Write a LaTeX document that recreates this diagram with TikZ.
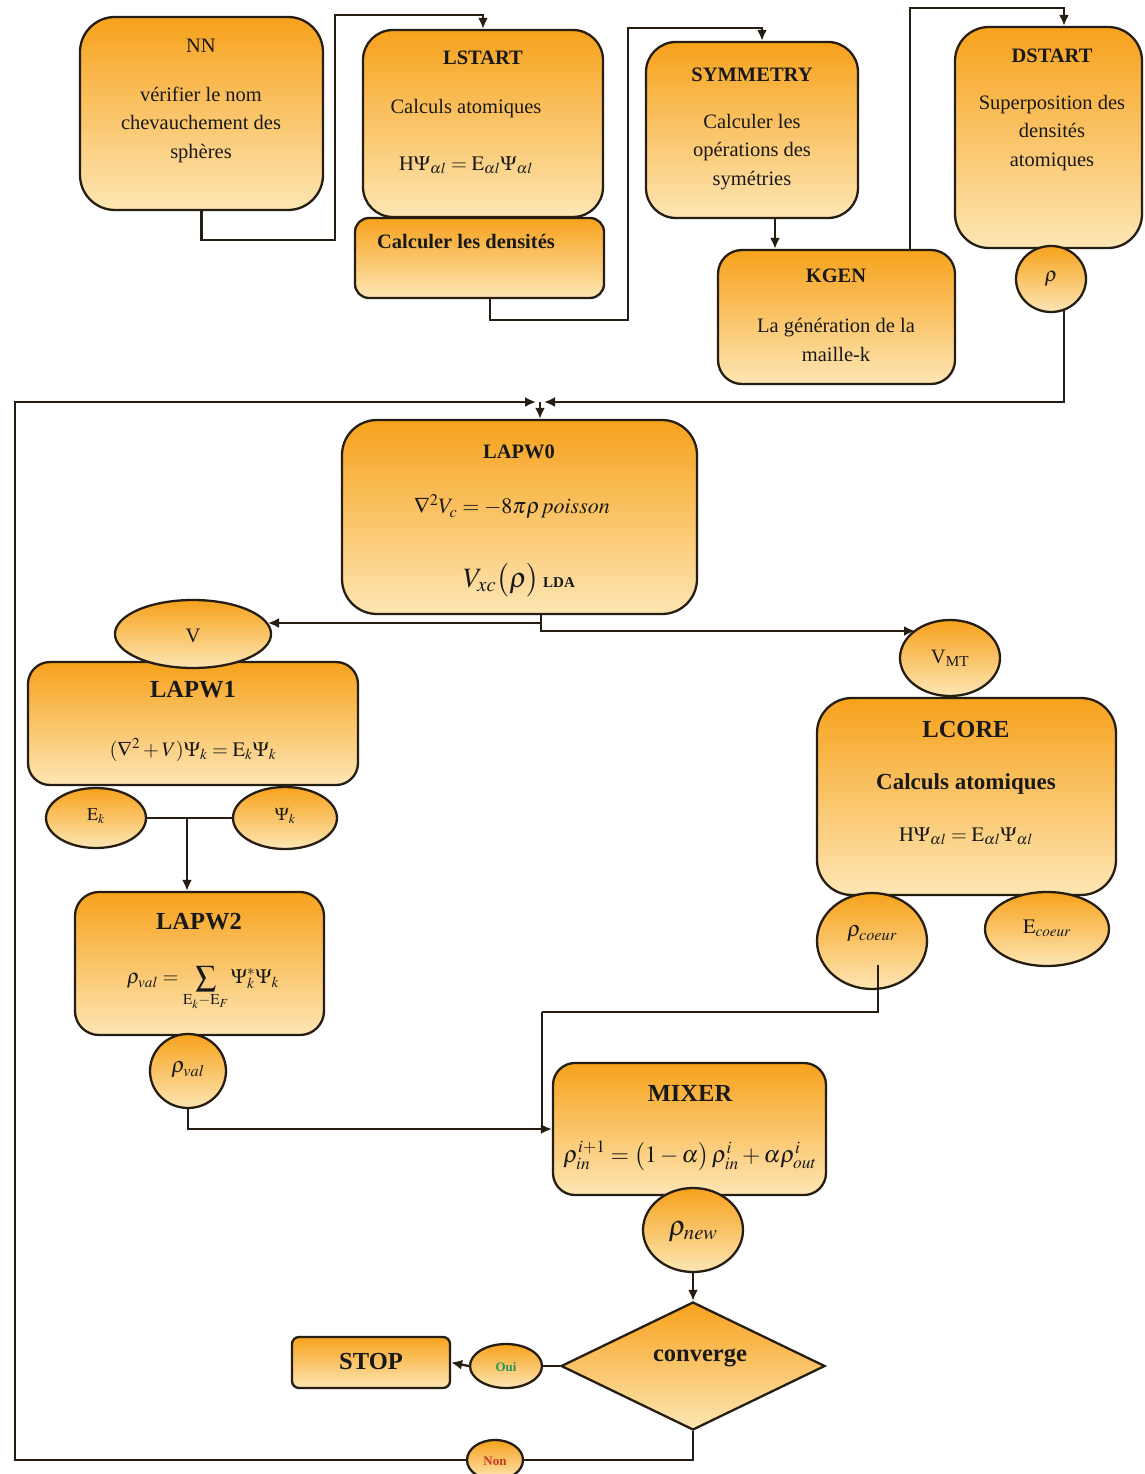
\documentclass[tikz,border=0pt]{standalone}
\usepackage{mathptmx}
\usepackage{fontspec}
\setmainfont{Liberation Serif}
\usetikzlibrary{shapes.geometric,arrows.meta}

\definecolor{otop}{RGB}{247,162,28}
\definecolor{obot}{RGB}{253,230,180}
\definecolor{edge}{RGB}{38,30,18}
\definecolor{ouigreen}{RGB}{40,150,90}
\definecolor{nonred}{RGB}{200,55,40}

\pgfdeclarelayer{paper}
\pgfdeclarelayer{wires}
\pgfsetlayers{paper,wires,main}

\tikzset{
  pbox/.style={draw=edge, line width=2.3pt, top color=otop, bottom color=obot, inner sep=0pt},
  pell/.style={ellipse, pbox},
  wire/.style={draw=edge, line width=2.3pt},
  arr/.style={wire, -{Latex[length=11pt,width=10pt]}},
  txt/.style={font=\fontsize{20.5}{28.5}\selectfont, align=center, inner sep=0pt, text=black!90},
  ttl/.style={font=\fontsize{20.5}{24}\selectfont\bfseries, inner sep=0pt, text=black!90},
  big/.style={font=\fontsize{24.5}{28}\selectfont\bfseries, inner sep=0pt, text=black!90},
}

\begin{document}
\begin{tikzpicture}[x=1pt,y=-1pt]
\useasboundingbox (0,0) rectangle (1144,1474);
\begin{pgfonlayer}{paper}
  \fill[white] (0,0) rectangle (1144,1474);
\end{pgfonlayer}

% ---------- initialisation boxes ----------
\node[pbox, rounded corners=35pt, minimum width=243pt, minimum height=193pt] (nn) at (201.5,113.5) {};
\node[pbox, rounded corners=30pt, minimum width=240pt, minimum height=187pt] (lstart) at (483,123.5) {};
\node[pbox, rounded corners=14pt, minimum width=249pt, minimum height=80pt] (calc) at (479.5,258) {};
\node[pbox, rounded corners=30pt, minimum width=212pt, minimum height=176pt] (sym) at (752,130) {};
\node[pbox, rounded corners=24pt, minimum width=237pt, minimum height=134pt] (kgen) at (836.5,317) {};
\node[pbox, rounded corners=34pt, minimum width=187pt, minimum height=221pt] (dstart) at (1048.5,137.5) {};
\node[pell, minimum width=70pt, minimum height=66pt] (rho) at (1051,279) {};

\node[txt] (nnT) at (201,46) {NN};
\node[txt] (nnB) at (201,124.5) {vérifier le nom\\chevauchement des\\sphères};
\node[ttl] (lsT) at (483,58) {LSTART};
\node[txt] (lsB) at (466,109) {Calculs atomiques};
\node[txt] (lsF) at (466,165) {$\mathrm{H}\Psi_{\alpha l}=\mathrm{E}_{\alpha l}\Psi_{\alpha l}$};
\node[ttl] (calcT) at (466,242) {Calculer les densités};
\node[ttl] (symT) at (752,75) {SYMMETRY};
\node[txt] (symB) at (752,152) {Calculer les\\opérations des\\symétries};
\node[ttl] (kgT) at (836,276) {KGEN};
\node[txt] (kgB) at (836,340) {La génération de la\\maille-k};
\node[ttl] (dsT) at (1052,56) {DSTART};
\node[txt] (dsB) at (1052,133) {Superposition des\\densités\\atomiques};
\node[txt] (rhoT) at (1051,279) {$\rho$};

% ---------- SCF cycle ----------
\node[pbox, rounded corners=35pt, minimum width=355pt, minimum height=194pt] (lapw0) at (519.5,517) {};
\node[pbox, rounded corners=22pt, minimum width=330pt, minimum height=123pt] (lapw1) at (193,723.5) {};
\node[pbox, rounded corners=24pt, minimum width=249pt, minimum height=143pt] (lapw2) at (199.5,963.5) {};
\node[pbox, rounded corners=35pt, minimum width=299pt, minimum height=197pt] (lcore) at (966.5,796.5) {};
\node[pbox, rounded corners=22pt, minimum width=273pt, minimum height=132pt] (mixer) at (689.5,1129) {};
\node[pbox, rounded corners=7pt, minimum width=158pt, minimum height=51pt] (stop) at (371,1362.5) {};
\node[pbox, diamond, minimum width=264pt, minimum height=128pt] (conv) at (693,1366) {};

\node[pell, minimum width=156pt, minimum height=68pt] (v) at (193,634) {};
\node[pell, minimum width=100pt, minimum height=76pt] (vmt) at (950,658) {};
\node[pell, minimum width=100pt, minimum height=60pt] (ek) at (96,818) {};
\node[pell, minimum width=104pt, minimum height=62pt] (psik) at (285,818) {};
\node[pell, minimum width=76pt, minimum height=74pt] (rhoval) at (188,1071) {};
\node[pell, minimum width=110pt, minimum height=96pt] (rhocore) at (872,941) {};
\node[pell, minimum width=124pt, minimum height=74pt] (ecore) at (1047,929) {};
\node[pell, minimum width=100pt, minimum height=84pt] (rhonew) at (693,1230) {};
\node[pell, minimum width=72pt, minimum height=44pt] (oui) at (506,1366) {};
\node[pell, minimum width=56pt, minimum height=40pt] (non) at (495,1460) {};

\node[ttl] (l0T) at (519,452) {LAPW0};
\node[txt, font=\fontsize{22}{26}\selectfont] (l0A) at (512,507) {$\nabla^{2}V_{c}=-8\pi\rho\,\mathit{poisson}$};
\node[txt] (l0B) at (519,580) {{\fontsize{28}{30}\selectfont$V_{xc}\bigl(\rho\bigr)$}\,{\fontsize{15}{18}\selectfont\bfseries LDA}};
\node[txt] (vT) at (193,636) {V};
\node[big] (l1T) at (193,690) {LAPW1};
\node[txt] (l1F) at (193,750) {$(\nabla^{2}+V)\Psi_{k}=\mathrm{E}_{k}\Psi_{k}$};
\node[txt, font=\fontsize{18}{20}\selectfont] (ekT) at (96,816) {$\mathrm{E}_{k}$};
\node[txt, font=\fontsize{18}{20}\selectfont] (psikT) at (285,816) {$\Psi_{k}$};
\node[big] (l2T) at (199,922) {LAPW2};
\node[txt] (l2F) at (203,988) {$\rho_{val}=\displaystyle\sum_{\mathrm{E}_{k}-\mathrm{E}_{F}}\Psi_{k}^{*}\Psi_{k}$};
\node[txt, font=\fontsize{22}{24}\selectfont] (rvT) at (188,1070) {$\rho_{val}$};
\node[big] (lcT) at (966,730) {LCORE};
\node[ttl, font=\fontsize{23}{26}\selectfont\bfseries] (lcA) at (966,784) {Calculs atomiques};
\node[txt] (lcF) at (966,836) {$\mathrm{H}\Psi_{\alpha l}=\mathrm{E}_{\alpha l}\Psi_{\alpha l}$};
\node[txt] (vmtT) at (950,658) {V\textsubscript{MT}};
\node[txt, font=\fontsize{22}{24}\selectfont] (rcT) at (872,934) {$\rho_{coeur}$};
\node[txt] (ecT) at (1047,928) {$\mathrm{E}_{coeur}$};
\node[big] (mxT) at (690,1093) {MIXER};
\node[txt, font=\fontsize{23.5}{28}\selectfont] (mxF) at (690,1156) {$\rho_{in}^{i+1}=\bigl(1-\alpha\bigr)\,\rho_{in}^{i}+\alpha\rho_{out}^{i}$};
\node[txt, font=\fontsize{28}{30}\selectfont] (rnT) at (693,1232) {$\rho_{new}$};
\node[big] (cvT) at (700,1358) {converge};
\node[big] (stT) at (371,1361) {STOP};
\node[txt, font=\fontsize{13}{15}\selectfont\bfseries, text=ouigreen] (ouiT) at (506,1367) {Oui};
\node[txt, font=\fontsize{13}{15}\selectfont\bfseries, text=nonred] (nonT) at (495,1461) {Non};

% ---------- connectors ----------
\begin{pgfonlayer}{wires}
  \draw[arr] (nn.south) -- (201.5,240) -- (335,240) -- (335,15) -- (483,15) -- (lstart.north);
  \draw[arr] ([xshift=10.5pt]calc.south) -- (490,320) -- (628,320) -- (628,28) -- (762,28) -- ([xshift=10pt]sym.north);
  \draw[arr] ([xshift=23pt]sym.south) -- ([xshift=-61.5pt]kgen.north);
  \draw[arr] ([xshift=73.5pt]kgen.north) -- (910,8) -- (1064,8) -- ([xshift=15.5pt]dstart.north);
  \draw[arr] ([xshift=13pt]rho.center) -- (1064,402) -- (544,402);
  \draw[arr] (non.west) -- (15,1460) -- (15,402) -- (536,402);
  \draw[arr] (540,402) -- ([xshift=20.5pt]lapw0.north);
  \draw[arr] ([xshift=21.5pt]lapw0.south) -- (541,623) -- (268,623);
  \draw[arr] (541,623) -- (541,631) -- (915,631);
  \draw[wire] (ek.east) -- (psik.west);
  \draw[arr] (187,818) -- ([xshift=-12.5pt]lapw2.north);
  \draw[arr] (rhoval.center) -- (188,1129) -- (mixer.west);
  \draw[wire] (542,1012) -- (542,1129);
  \draw[arr] (rhonew.center) -- (conv.north);
  \draw[wire] (conv.west) -- (oui.east);
  \draw[arr] (oui.west) -- (stop.east);
  \draw[wire] (conv.south) -- (693,1460) -- (non.east);
\end{pgfonlayer}
\draw[wire] ([xshift=6pt,yshift=-24pt]rhocore.center) -- (878,1012) -- (542,1012);
\end{tikzpicture}
\end{document}
